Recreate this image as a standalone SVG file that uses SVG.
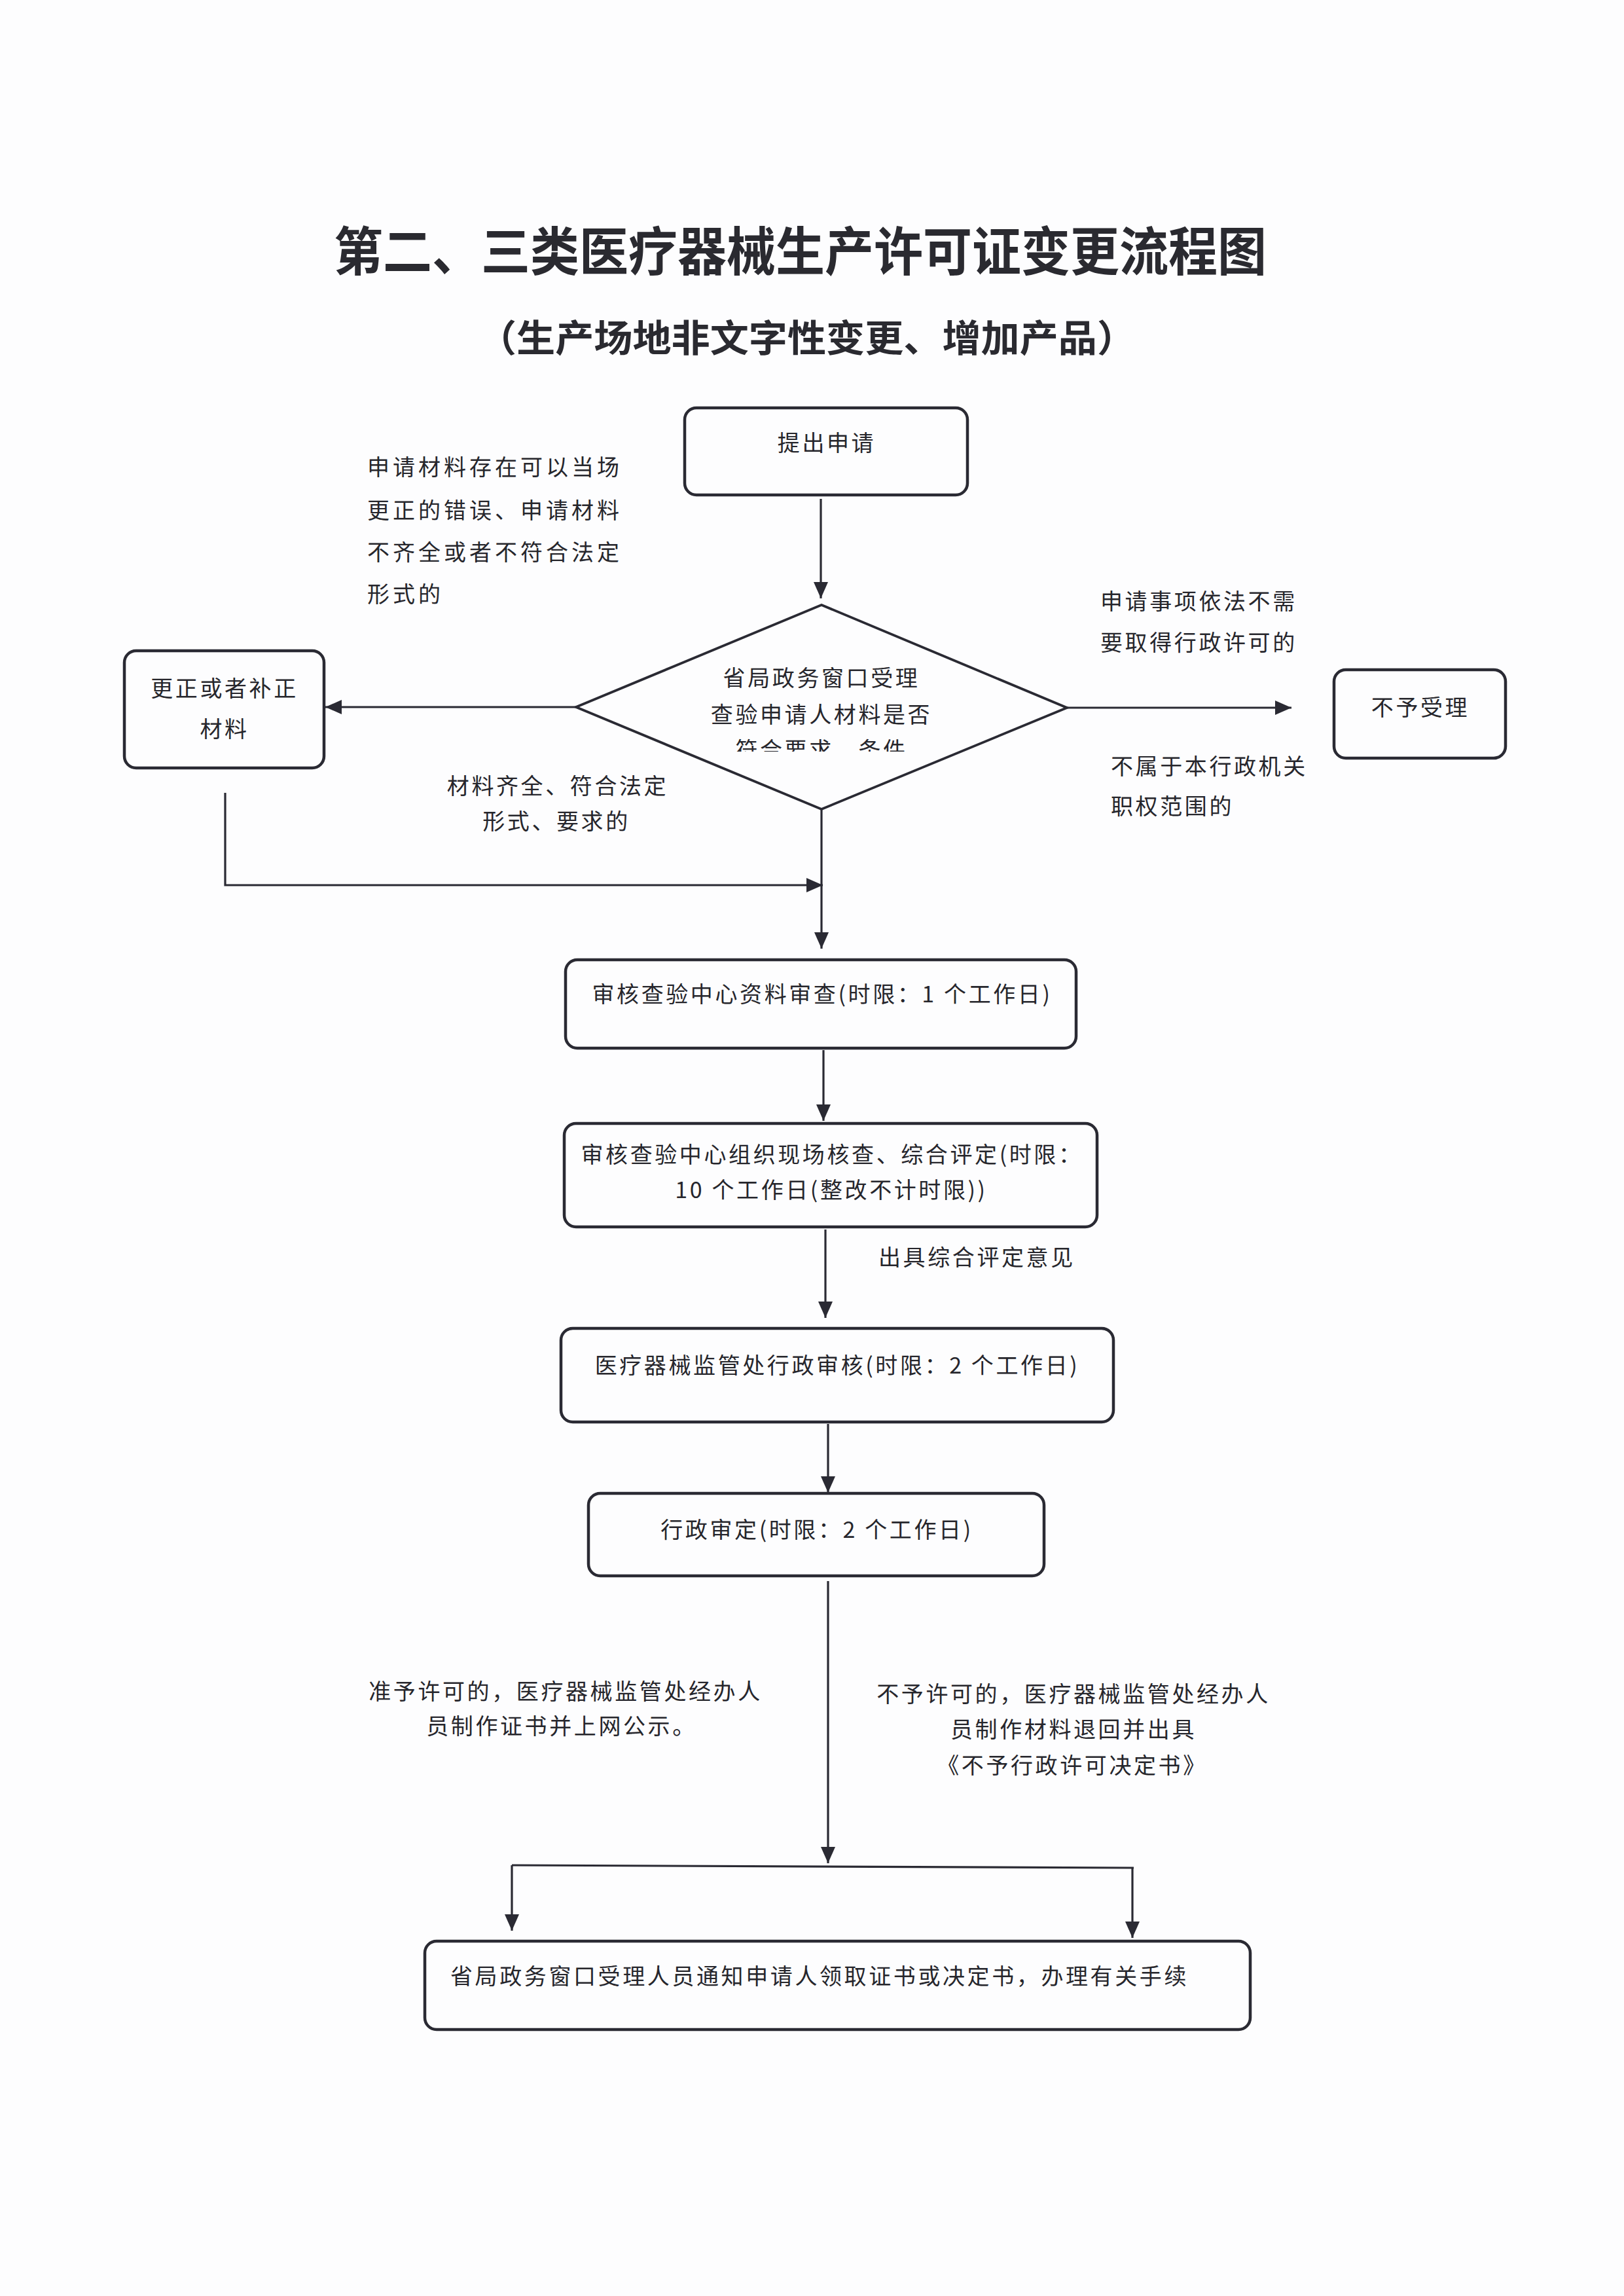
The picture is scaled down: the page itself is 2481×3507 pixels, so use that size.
<svg xmlns="http://www.w3.org/2000/svg" width="2481" height="3507" viewBox="0 0 2481 3507">
<style>
.t{font-family:"Noto Sans CJK SC","Noto Sans",sans-serif;font-size:34px;letter-spacing:3.6px;fill:#26262c}
.w{letter-spacing:5px}
.m{text-anchor:middle}
.h{font-family:"Noto Sans CJK SC","Noto Sans",sans-serif;font-weight:bold;fill:#2a2a30}
.box{fill:none;stroke:#2a2a33;stroke-width:4.5}
.ln{fill:none;stroke:#2a2a33;stroke-width:3.2}
.arr{fill:none;stroke:#2a2a33;stroke-width:3.2;marker-end:url(#ah)}
</style>
<defs>
<marker id="ah" markerUnits="userSpaceOnUse" markerWidth="26" markerHeight="24" refX="25" refY="12" orient="auto">
<path d="M0,1 L25,12 L0,23 Z" fill="#2a2a33"/>
</marker>
<clipPath id="dclip"><rect x="1000" y="1000" width="520" height="148"/></clipPath>
</defs>
<rect width="2481" height="3507" fill="#fdfdfe"/>

<g id="title">
<text class="h" x="510" y="413" font-size="80" textLength="1425" lengthAdjust="spacingAndGlyphs">第二、三类医疗器械生产许可证变更流程图</text>
<text class="h" x="730" y="537" font-size="57" textLength="1005" lengthAdjust="spacingAndGlyphs">（生产场地非文字性变更、增加产品）</text>
</g>

<g id="connectors">
<path class="arr" d="M1254,762 L1254,914"/>
<path class="arr" d="M880,1080 L497,1080"/>
<path class="arr" d="M1630,1081 L1973,1081"/>
<path class="arr" d="M1255,1236 L1255,1449"/>
<path class="arr" d="M344,1211 L344,1352 L1257,1352"/>
<path class="arr" d="M1258,1604 L1258,1712"/>
<path class="arr" d="M1261,1878 L1261,2013"/>
<path class="arr" d="M1265,2175 L1265,2280"/>
<path class="arr" d="M1265,2415 L1265,2846"/>
<path class="ln" d="M782,2849 L1732,2853"/>
<path class="arr" d="M782,2849 L782,2949"/>
<path class="arr" d="M1730,2853 L1730,2960"/>
</g>

<g id="labels">
<text class="t w" x="561" y="726">申请材料存在可以当场</text>
<text class="t w" x="561" y="792">更正的错误、申请材料</text>
<text class="t w" x="561" y="856">不齐全或者不符合法定</text>
<text class="t w" x="561" y="920">形式的</text>
<text class="t" x="1681" y="931">申请事项依法不需</text>
<text class="t" x="1681" y="994">要取得行政许可的</text>
<text class="t" x="1697" y="1183">不属于本行政机关</text>
<text class="t" x="1697" y="1244">职权范围的</text>
<text class="t m" x="852" y="1213">材料齐全、符合法定</text>
<text class="t m" x="850" y="1267">形式、要求的</text>
<text class="t" x="1342" y="1933">出具综合评定意见</text>
<text class="t m" x="864" y="2596">准予许可的，医疗器械监管处经办人</text>
<text class="t m" x="858" y="2649">员制作证书并上网公示。</text>
<text class="t m" x="1640" y="2600">不予许可的，医疗器械监管处经办人</text>
<text class="t m" x="1640" y="2654">员制作材料退回并出具</text>
<text class="t m" x="1638" y="2709">《不予行政许可决定书》</text>
</g>

<g id="n-apply">
<rect class="box" x="1046" y="623" width="432" height="133" rx="18"/>
<text class="t m" x="1263" y="689">提出申请</text>
</g>

<g id="n-check">
<polygon class="box" points="1255,924 1630,1081 1255,1236 880,1080" style="stroke-width:3.8"/>
<text class="t m" x="1255" y="1048">省局政务窗口受理</text>
<text class="t m" x="1255" y="1104">查验申请人材料是否</text>
<text class="t m" x="1255" y="1158" clip-path="url(#dclip)">符合要求、条件</text>
</g>

<g id="n-correct">
<rect class="box" x="190" y="994" width="305" height="179" rx="18"/>
<text class="t m" x="343" y="1064">更正或者补正</text>
<text class="t m" x="343" y="1126">材料</text>
</g>

<g id="n-reject">
<rect class="box" x="2038" y="1023" width="262" height="135" rx="18"/>
<text class="t m" x="2170" y="1093">不予受理</text>
</g>

<g id="n-review1">
<rect class="box" x="864" y="1466" width="780" height="135" rx="18"/>
<text class="t m" x="1256" y="1531">审核查验中心资料审查(时限：1 个工作日)</text>
</g>

<g id="n-review2">
<rect class="box" x="862" y="1716" width="814" height="158" rx="18"/>
<text class="t m" x="1271" y="1776">审核查验中心组织现场核查、综合评定(时限：</text>
<text class="t m" x="1270" y="1830">10 个工作日(整改不计时限))</text>
</g>

<g id="n-review3">
<rect class="box" x="857" y="2029" width="844" height="143" rx="18"/>
<text class="t m" x="1279" y="2098">医疗器械监管处行政审核(时限：2 个工作日)</text>
</g>

<g id="n-decide">
<rect class="box" x="899" y="2281" width="696" height="126" rx="18"/>
<text class="t m" x="1248" y="2349">行政审定(时限：2 个工作日)</text>
</g>

<g id="n-notify">
<rect class="box" x="649" y="2965" width="1261" height="135" rx="18"/>
<text class="t" x="688" y="3031">省局政务窗口受理人员通知申请人领取证书或决定书，办理有关手续</text>
</g>
</svg>
